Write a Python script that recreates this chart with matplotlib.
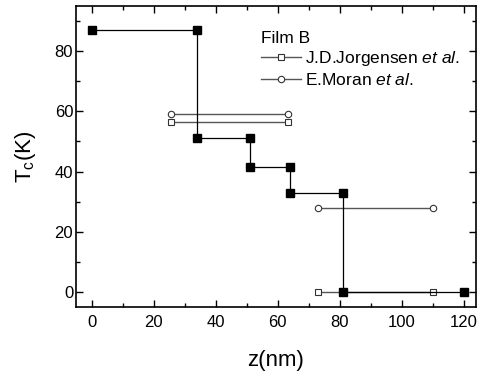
import numpy as np
import matplotlib
matplotlib.use("Agg")
import matplotlib.pyplot as plt

plt.rcParams["font.family"] = ["Liberation Sans", "DejaVu Sans"]
plt.rcParams["mathtext.fontset"] = "custom"
plt.rcParams["mathtext.rm"] = "Liberation Sans"
plt.rcParams["mathtext.it"] = "Liberation Sans:italic"

# Film B (filled squares, step profile)
film_z = [0, 34, 34, 51, 51, 64, 64, 81, 81, 120]
film_tc = [87, 87, 51, 51, 41.5, 41.5, 33, 33, 0, 0]

# J.D.Jorgensen et al. (open squares), two segments
jor_z = [25.5, 63.5, np.nan, 73, 110]
jor_tc = [56.3, 56.3, np.nan, 0, 0]

# E.Moran et al. (open circles), two segments
mor_z = [25.5, 63.5, np.nan, 73, 110]
mor_tc = [59, 59, np.nan, 28, 28]

fig = plt.figure(figsize=(4.81, 3.71), dpi=100)
ax = fig.add_axes([76 / 481, 1 - 307 / 371, 400 / 481, 301 / 371])

ax.plot(film_z, film_tc, color="black", lw=0.9, marker="s",
        markersize=5.2, markerfacecolor="black", markeredgecolor="black",
        zorder=3)
jor_line, = ax.plot(jor_z, jor_tc, color="#555555", lw=1.0, marker="s",
                    markersize=4.2, markerfacecolor="white",
                    markeredgecolor="#333333", markeredgewidth=0.8,
                    zorder=2)
mor_line, = ax.plot(mor_z, mor_tc, color="#555555", lw=1.0, marker="o",
                    markersize=4.6, markerfacecolor="white",
                    markeredgecolor="#333333", markeredgewidth=0.8,
                    zorder=2)

ax.set_xlim(-5, 124)
ax.set_ylim(-5, 95)
ax.set_xticks([0, 20, 40, 60, 80, 100, 120])
ax.set_yticks([0, 20, 40, 60, 80])
ax.set_xticks(np.arange(10, 121, 20), minor=True)
ax.set_yticks(np.arange(10, 91, 20), minor=True)
ax.tick_params(which="both", direction="in", top=True, right=True,
               labelsize=12, width=1.0)
ax.tick_params(which="major", length=5)
ax.tick_params(which="minor", length=3)
ax.tick_params(axis="x", which="major", pad=6)
ax.tick_params(axis="y", which="major", pad=2)
for s in ax.spines.values():
    s.set_linewidth(1.2)

ax.set_xlabel("z(nm)", fontsize=16, labelpad=14)
ax.set_ylabel("T$_\\mathrm{c}$(K)", fontsize=16, labelpad=12)

leg = ax.legend([jor_line, mor_line],
                ["J.D.Jorgensen $\\it{et\\ al.}$", "E.Moran $\\it{et\\ al.}$"],
                title="Film B", title_fontsize=12.5, fontsize=12.5,
                loc="upper left", bbox_to_anchor=(0.463, 0.918),
                frameon=False, borderpad=0, borderaxespad=0,
                handlelength=2.3, handletextpad=0.25, labelspacing=0.2,
                numpoints=1, alignment="left")

fig.savefig("out.png", dpi=100)
